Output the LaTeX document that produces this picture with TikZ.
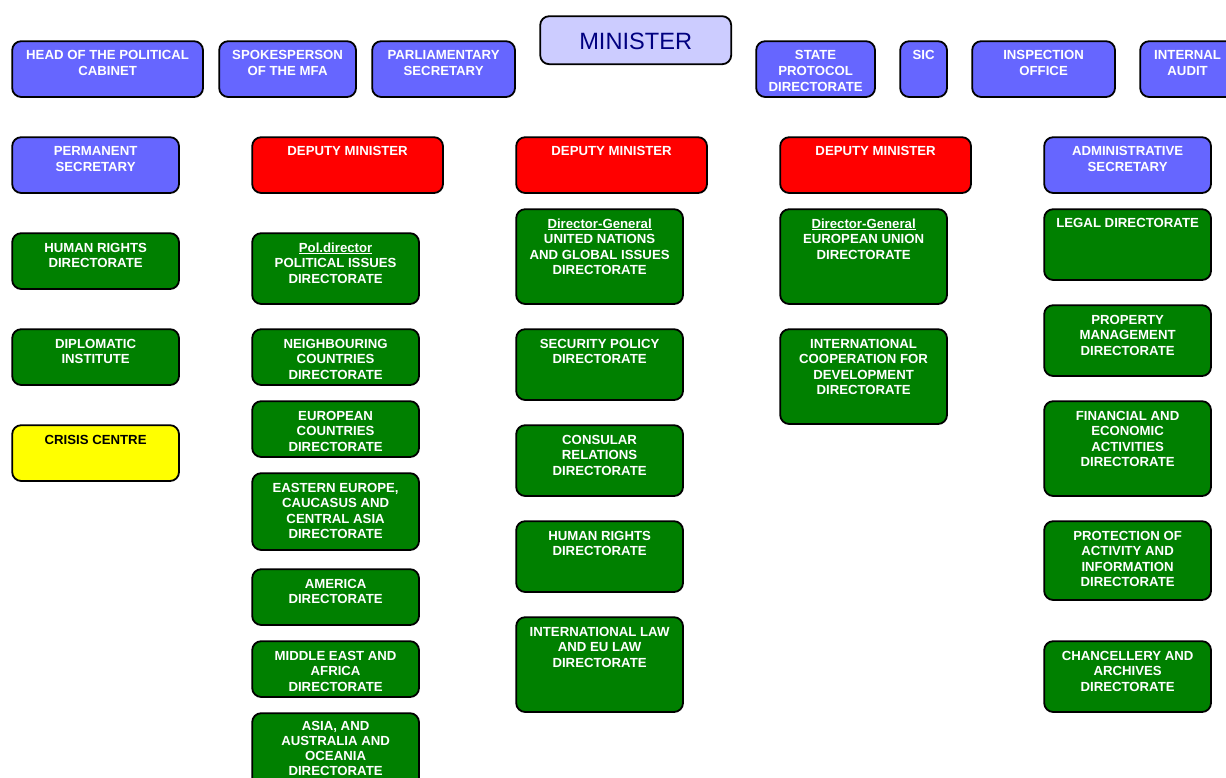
\documentclass[tikz,border=0pt]{standalone}
\usepackage{fontspec}
\setmainfont{Liberation Sans}
\definecolor{boxblue}{HTML}{6666FF}
\definecolor{boxred}{HTML}{FF0000}
\definecolor{boxgreen}{HTML}{008000}
\definecolor{boxyellow}{HTML}{FFFF00}
\definecolor{minfill}{HTML}{CCCCFF}
\definecolor{minnavy}{HTML}{000080}
\tikzset{
  boxbase/.style={draw=black, line width=1.8pt, rounded corners=9pt, inner sep=0pt, shape=rectangle},
  bluebox/.style={fill=boxblue},
  redbox/.style={fill=boxred},
  greenbox/.style={fill=boxgreen},
  yellowbox/.style={fill=boxyellow},
  lbl/.style={anchor=north, inner sep=0pt, align=center, text=white,
    font=\fontsize{13.2}{15.6}\selectfont\bfseries},
}
\newcommand\orgbox[8]{%
  \pgfmathsetmacro\bw{#4-#2-1.2}\pgfmathsetmacro\bh{#5-#3-1.2}%
  \node[boxbase,#6,minimum width=\bw pt,minimum height=\bh pt,anchor=north west] (#1) at (#2+0.3,#3+0.3) {};%
  \node[lbl,#8] (#1-t) at ([yshift=-10.1pt]#1.north) {\rule{0pt}{9.4pt}#7};%
}
\begin{document}
\begin{tikzpicture}[x=1pt,y=-1pt]
\clip (0,0) rectangle (1226,778);
% top row
\orgbox{head}{11}{40}{203}{97}{bluebox}{HEAD OF THE POLITICAL\\CABINET}{}
\orgbox{spokes}{218}{40}{356}{97}{bluebox}{SPOKESPERSON\\OF THE MFA}{}
\orgbox{parl}{371}{40}{515}{97}{bluebox}{PARLIAMENTARY\\SECRETARY}{}
\node[boxbase,fill=minfill,minimum width=191pt,minimum height=48pt,anchor=north west] (minister) at (539.3,15.3) {};
\node[inner sep=0pt,text=minnavy,font=\fontsize{23.6}{26}\selectfont] (minister-t) at ([yshift=-1pt]minister.center) {MINISTER};
\orgbox{protocol}{755}{40}{875}{97}{bluebox}{STATE\\PROTOCOL\\DIRECTORATE}{}
\orgbox{sic}{899}{40}{947}{97}{bluebox}{SIC}{}
\orgbox{insp}{971}{40}{1115}{97}{bluebox}{INSPECTION\\OFFICE}{}
\orgbox{audit}{1139}{40}{1235}{97}{bluebox}{INTERNAL\\AUDIT}{}
% second row
\orgbox{perm}{11}{136}{179}{193}{bluebox}{PERMANENT\\SECRETARY}{}
\orgbox{dep1}{251}{136}{443}{193}{redbox}{DEPUTY MINISTER}{}
\orgbox{dep2}{515}{136}{707}{193}{redbox}{DEPUTY MINISTER}{}
\orgbox{dep3}{779}{136}{971}{193}{redbox}{DEPUTY MINISTER}{}
\orgbox{admin}{1043}{136}{1211}{193}{bluebox}{ADMINISTRATIVE\\SECRETARY}{}
% column 1
\orgbox{hr1}{11}{232}{179}{289}{greenbox}{HUMAN RIGHTS\\DIRECTORATE}{}
\orgbox{dipl}{11}{328}{179}{385}{greenbox}{DIPLOMATIC\\INSTITUTE}{}
\orgbox{crisis}{11}{424}{179}{481}{yellowbox}{CRISIS CENTRE}{text=black}
% column 2
\orgbox{pol}{251}{232}{419}{304}{greenbox}{\underline{Pol.director}\\POLITICAL ISSUES\\DIRECTORATE}{}
\orgbox{neigh}{251}{328}{419}{385}{greenbox}{NEIGHBOURING\\COUNTRIES\\DIRECTORATE}{}
\orgbox{euro}{251}{400}{419}{457}{greenbox}{EUROPEAN\\COUNTRIES\\DIRECTORATE}{}
\orgbox{east}{251}{472}{419}{550}{greenbox}{EASTERN EUROPE,\\CAUCASUS AND\\CENTRAL ASIA\\DIRECTORATE}{}
\orgbox{amer}{251}{568}{419}{625}{greenbox}{AMERICA\\DIRECTORATE}{}
\orgbox{mideast}{251}{640}{419}{697}{greenbox}{MIDDLE EAST AND\\AFRICA\\DIRECTORATE}{}
\orgbox{asia}{251}{712}{419}{790}{greenbox}{ASIA, AND\\AUSTRALIA AND\\OCEANIA\\DIRECTORATE}{yshift=2pt,font=\fontsize{13.2}{15.2}\selectfont\bfseries}
% column 3
\orgbox{un}{515}{208}{683}{304}{greenbox}{\underline{Director-General}\\UNITED NATIONS\\AND GLOBAL ISSUES\\DIRECTORATE}{}
\orgbox{sec}{515}{328}{683}{400}{greenbox}{SECURITY POLICY\\DIRECTORATE}{}
\orgbox{cons}{515}{424}{683}{496}{greenbox}{CONSULAR\\RELATIONS\\DIRECTORATE}{}
\orgbox{hr2}{515}{520}{683}{592}{greenbox}{HUMAN RIGHTS\\DIRECTORATE}{}
\orgbox{intlaw}{515}{616}{683}{712}{greenbox}{INTERNATIONAL LAW\\AND EU LAW\\DIRECTORATE}{}
% column 4
\orgbox{eu}{779}{208}{947}{304}{greenbox}{\underline{Director-General}\\EUROPEAN UNION\\DIRECTORATE}{}
\orgbox{coop}{779}{328}{947}{424}{greenbox}{INTERNATIONAL\\COOPERATION FOR\\DEVELOPMENT\\DIRECTORATE}{}
% column 5
\orgbox{legal}{1043}{208}{1211}{280}{greenbox}{LEGAL DIRECTORATE}{}
\orgbox{prop}{1043}{304}{1211}{376}{greenbox}{PROPERTY\\MANAGEMENT\\DIRECTORATE}{}
\orgbox{fin}{1043}{400}{1211}{496}{greenbox}{FINANCIAL AND\\ECONOMIC\\ACTIVITIES\\DIRECTORATE}{}
\orgbox{prot}{1043}{520}{1211}{600}{greenbox}{PROTECTION OF\\ACTIVITY AND\\INFORMATION\\DIRECTORATE}{}
\orgbox{chanc}{1043}{640}{1211}{712}{greenbox}{CHANCELLERY AND\\ARCHIVES\\DIRECTORATE}{}
\end{tikzpicture}
\end{document}
